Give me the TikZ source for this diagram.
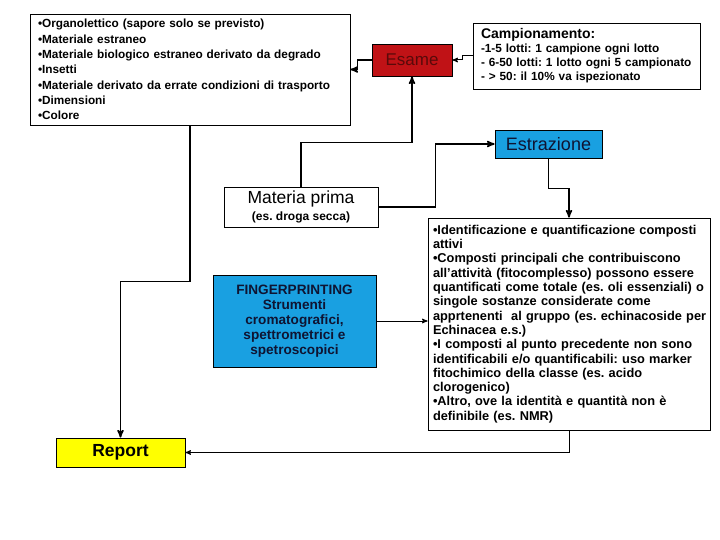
\documentclass[tikz,border=0pt]{standalone}
\usepackage{fontspec}
\setmainfont{Liberation Sans}
\usetikzlibrary{arrows,positioning}
\frenchspacing

\definecolor{esamered}{RGB}{192,18,22}
\definecolor{esametext}{RGB}{90,10,10}
\definecolor{estrblue}{RGB}{25,160,225}
\definecolor{navytext}{RGB}{15,20,50}
\definecolor{reportyellow}{RGB}{255,255,0}

\tikzset{
  box/.style={draw,rectangle,inner sep=0pt,line width=0.8pt},
  thicklink/.style={->,line width=1.6pt},
  thinlink/.style={->,line width=1pt},
}
\newcommand{\fsz}[2]{\fontsize{#1}{#2}\selectfont}

\begin{document}
\begin{tikzpicture}[x=1pt,y=-1pt,>=stealth']
\useasboundingbox (0,0) rectangle (720,540);

\node[box,minimum width=320pt,minimum height=111pt,text width=304pt,align=left,font=\fsz{11.8}{15.3}\bfseries] (crit) at (190,69.5)
  {•Organolettico (sapore solo se previsto)\\•Materiale estraneo\\•Materiale biologico estraneo derivato da degrado\\•Insetti\\•Materiale derivato da errate condizioni di trasporto\\•Dimensioni\\•Colore};
\node[box,fill=esamered,minimum width=80pt,minimum height=32pt,font=\fsz{17}{20},text=esametext] (esame) at (412,60)
  {Esame};
\node[box,minimum width=227pt,minimum height=66pt,text width=211pt,align=left,font=\fsz{11.8}{14}\bfseries] (camp) at (586.5,56)
  {\fsz{14}{14}Campionamento:\\\fsz{11.8}{14}-1-5 lotti: 1 campione ogni lotto\\\fsz{11.8}{14}- 6-50 lotti: 1 lotto ogni 5 campionato\\\fsz{11.8}{14}- > 50: il 10\% va ispezionato};
\node[box,fill=estrblue,minimum width=107pt,minimum height=28pt,font=\fsz{18}{20},text=navytext] (estr) at (548.5,144)
  {Estrazione};
\node[box,minimum width=154pt,minimum height=40pt,align=center,font=\fsz{17.5}{17}] (mat) at (301,207)
  {Materia prima\\\fsz{12}{14}\bfseries (es. droga secca)};
\node[box,fill=estrblue,minimum width=163pt,minimum height=92pt,align=center,font=\fsz{13.6}{15}\bfseries,text=navytext] (finger) at (294.5,321)
  {FINGERPRINTING\\Strumenti\\cromatografici,\\spettrometrici e\\spetroscopici};
\node[box,minimum width=282pt,minimum height=212pt,text width=272pt,align=left,font=\fsz{12.8}{14.3}\bfseries] (ident) at (569,324)
  {\mbox{•Identificazione e quantificazione composti}\\attivi\\\mbox{•Composti principali che contribuiscono}\\\mbox{all’attività (fitocomplesso) possono essere}\\\mbox{quantificati come totale (es. oli essenziali) o}\\\mbox{singole sostanze considerate come}\\\mbox{apprtenenti\ \ al gruppo (es. echinacoside per}\\\mbox{Echinacea e.s.)}\\\mbox{•I composti al punto precedente non sono}\\\mbox{identificabili e/o quantificabili: uso marker}\\\mbox{fitochimico della classe (es. acido}\\\mbox{clorogenico)}\\\mbox{•Altro, ove la identità e quantità non è}\\\mbox{definibile (es. NMR)}};
\node[box,fill=reportyellow,minimum width=129pt,minimum height=29pt,font=\fsz{17.5}{20}\bfseries] (report) at (120.5,452.5)
  {Report};

\draw[thicklink] (esame.west) -- ++(-14,0) |- (crit.east);
\draw[thinlink] (camp.west) -- ++(-10,0) |- (esame.east);
\draw[thicklink] (mat.north) -- ++(0,-44) -| (esame.south);
\draw[thicklink] (mat.east) -- ++(57,0) |- (estr.west);
\draw[thicklink] (estr.south) -- ++(0,30) -| (ident.north);
\draw[thinlink] (finger.east) -- (finger.east -| ident.west);
\draw[thinlink] (ident.south) |- (report.east);
\draw[thicklink] (crit.south) -- ++(0,156) -| (report.north);
\end{tikzpicture}
\end{document}
